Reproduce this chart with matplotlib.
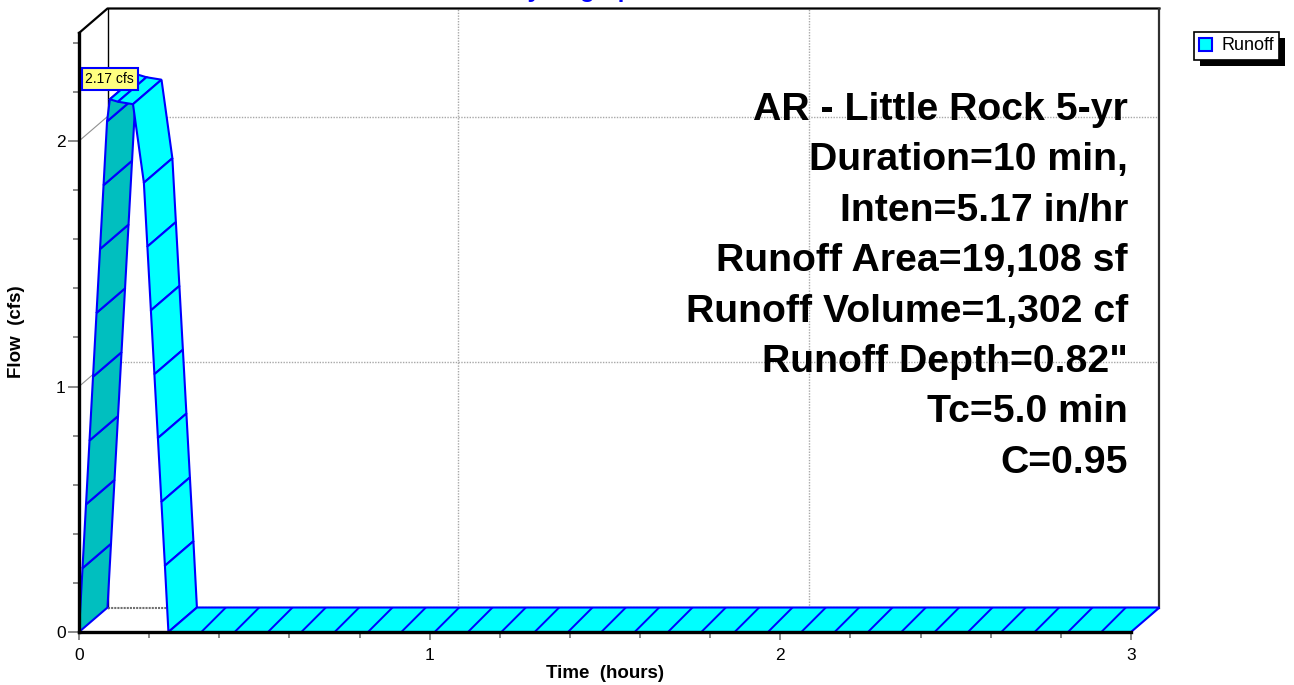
"""HydroCAD-style runoff hydrograph with a pseudo-3D ribbon."""

import matplotlib

matplotlib.use("Agg")
import matplotlib.pyplot as plt
from matplotlib.patches import Patch, Polygon, Rectangle
from matplotlib.ticker import MultipleLocator

plt.rcParams["font.family"] = ["Liberation Sans", "DejaVu Sans"]
plt.rcParams["hatch.color"] = "blue"
plt.rcParams["hatch.linewidth"] = 1.4

# hydrograph
time_hr = [0.0, 0.01, 0.02, 0.03, 0.04, 0.05, 0.06, 0.07, 0.08, 0.088,
           0.111, 0.154, 0.185, 0.195, 0.205, 0.215, 0.225, 0.235, 0.245,
           0.255, 3.0]
flow_cfs = [0.0, 0.26, 0.52, 0.78, 1.04, 1.30, 1.56, 1.82, 2.08, 2.17,
            2.16, 2.15, 1.83, 1.57, 1.31, 1.05, 0.79, 0.53, 0.27,
            0.0, 0.0]
peak_label = "2.17 cfs"
series_name = "Runoff"
title = "Hydrograph"

storm_info = [
    "AR - Little Rock 5-yr",
    "Duration=10 min,",
    "Inten=5.17 in/hr",
    "Runoff Area=19,108 sf",
    "Runoff Volume=1,302 cf",
    "Runoff Depth=0.82\"",
    "Tc=5.0 min",
    "C=0.95",
]

x_major = [0, 1, 2, 3]
y_major = [0, 1, 2]
X_MAX, Y_MAX = 3.0, 2.44

CYAN = "#00FFFF"
DARK = "#00BFBF"
EDGE = "#0000FF"
GRID = "#a8a8a8"
TICK = "#808080"

W, H = 1294, 685
fig = plt.figure(figsize=(W / 100, H / 100), dpi=100)
ax = fig.add_axes([79 / W, 53 / H, 1052 / W, 599 / H])
ax.set_xlim(0, X_MAX)
ax.set_ylim(0, Y_MAX)
ax.patch.set_visible(False)

# depth offset of the back plane, 28.5 px right / 24.5 px up
ddx = 28.5 / (1052 / X_MAX)
ddy = 24.5 / (599 / Y_MAX)

# back wall + grid
for xv in x_major[1:-1]:
    ax.plot([xv + ddx] * 2, [ddy, Y_MAX + ddy], color=GRID, lw=1,
            ls=(0, (1, 1)), clip_on=False, zorder=1)
for yv in y_major[1:]:
    ax.plot([ddx, X_MAX + ddx], [yv + ddy] * 2, color=GRID, lw=1,
            ls=(0, (1, 1)), clip_on=False, zorder=1)
    ax.plot([0, ddx], [yv, yv + ddy], color="#909090", lw=0.8,
            clip_on=False, zorder=1)
ax.plot([0, ddx, X_MAX + ddx], [Y_MAX, Y_MAX + ddy, Y_MAX + ddy],
        color="black", lw=1.6, clip_on=False, zorder=2)
ax.plot([ddx, ddx], [ddy, Y_MAX + ddy], color="black", lw=1.0,
        clip_on=False, zorder=2)
ax.plot([X_MAX + ddx] * 2, [ddy, Y_MAX + ddy], color="#303030", lw=1.6,
        clip_on=False, zorder=2)
ax.plot([ddx, X_MAX + ddx], [ddy, ddy], color="#707070", lw=1.5,
        ls=(0, (1, 0.5)), clip_on=False, zorder=2)

# ribbon, one face per segment
for i in range(len(time_hr) - 1):
    t0, t1 = time_hr[i], time_hr[i + 1]
    q0, q1 = flow_cfs[i], flow_cfs[i + 1]
    verts = [(t0, q0), (t1, q1), (t1 + ddx, q1 + ddy), (t0 + ddx, q0 + ddy)]
    flat_zero = q0 == 0 and q1 == 0
    ax.add_patch(Polygon(
        verts, closed=True,
        facecolor=DARK if q1 > q0 else CYAN,
        edgecolor=EDGE, lw=1.5,
        hatch="/" if flat_zero else None,
        joinstyle="miter", clip_on=False, zorder=3,
    ))

# peak callout
ipk = flow_cfs.index(max(flow_cfs))
ax.annotate(
    peak_label, xy=(time_hr[ipk], flow_cfs[ipk]), xytext=(0, 20),
    textcoords="offset pixels", ha="center", va="center", fontsize=10,
    bbox=dict(boxstyle="square,pad=0.28", fc="#FFFF80", ec=EDGE, lw=1.5),
    annotation_clip=False, zorder=10,
)

# front axes
for side in ("top", "right"):
    ax.spines[side].set_visible(False)
for side in ("left", "bottom"):
    ax.spines[side].set_linewidth(2.4)
    ax.spines[side].set_color("black")
    ax.spines[side].set_zorder(6)
ax.set_xticks(x_major)
ax.set_yticks(y_major)
ax.xaxis.set_minor_locator(MultipleLocator(0.2))
ax.yaxis.set_minor_locator(MultipleLocator(0.2))
ax.tick_params(which="both", color=TICK, width=1.3, labelsize=12.5)
ax.tick_params(axis="x", which="major", length=6, pad=5.5)
ax.tick_params(axis="x", which="minor", length=4)
ax.tick_params(axis="y", which="major", length=8, pad=1.5)
ax.tick_params(axis="y", which="minor", length=4.5)

fig.text(17 / W, 1 - 332 / H, "Flow  (cfs)", rotation=90, ha="center",
         va="center", fontsize=13.5, fontweight="bold")
fig.text(605 / W, 1 - 674 / H, "Time  (hours)", ha="center", va="center",
         fontsize=13.5, fontweight="bold")
fig.text(579 / W, 1 + 3.2 / H, title, ha="center", va="baseline",
         fontsize=17.5, fontweight="bold", color="blue")

# storm summary block
for k, line in enumerate(storm_info):
    fig.text(1128 / W, 1 - (120 + 50.4 * k) / H, line, ha="right",
             va="baseline", fontsize=28.3, fontweight="bold")

# legend with a hard black drop shadow
leg = fig.legend(handles=[Patch(fc=CYAN, ec=EDGE, lw=1.5, label=series_name)],
                 loc="upper left", bbox_to_anchor=(1194 / W, 1 - 32 / H),
                 borderaxespad=0, fancybox=False, framealpha=1,
                 facecolor="white", edgecolor="black", fontsize=13,
                 handlelength=0.72, handleheight=0.72, handletextpad=0.5,
                 borderpad=0.3)
leg.get_frame().set_linewidth(1.2)
leg.set_zorder(5)

fig.canvas.draw()
bb = leg.get_window_extent().transformed(fig.transFigure.inverted())
fig.add_artist(Rectangle((bb.x0 + 6 / W, bb.y0 - 6 / H), bb.width, bb.height,
                         transform=fig.transFigure, facecolor="black",
                         edgecolor="none", zorder=4))

fig.savefig("out.png", dpi=100)
